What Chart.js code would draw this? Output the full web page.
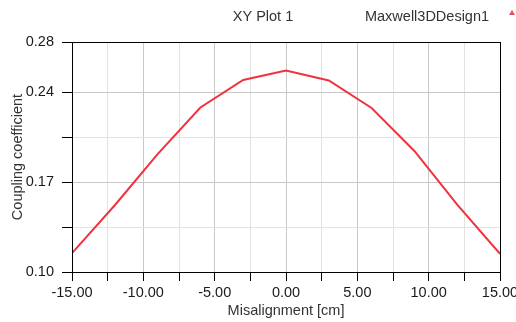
<!DOCTYPE html>
<html>
<head>
<meta charset="utf-8">
<script src="https://cdn.jsdelivr.net/npm/chart.js@4/dist/chart.umd.min.js"></script>
<style>
  html, body { margin: 0; padding: 0; background: #fff; }
  #wrap { width: 516px; height: 322px; }
</style>
</head>
<body>
<div id="wrap"><canvas id="chart"></canvas></div>
<script>
// -----------------------------
// Data
// -----------------------------
const misalignment = [-15, -12, -9, -6, -3, 0, 3, 6, 9, 12, 15];
const coupling = [0.1151, 0.1535, 0.1945, 0.2318, 0.2539, 0.2614, 0.2535, 0.2314, 0.1970, 0.1540, 0.1146];

const yTickValues = [0.10, 0.136, 0.172, 0.208, 0.244, 0.2843];
const yTickLabels = ["0.10", "", "0.17", "", "0.24", "0.28"];
const xTickValues = [-15, -12.5, -10, -7.5, -5, -2.5, 0, 2.5, 5, 7.5, 10, 12.5, 15];
const xTickLabels = ["-15.00", "", "-10.00", "", "-5.00", "", "0.00", "", "5.00", "", "10.00", "", "15.00"];

const plotTitle = "XY Plot 1";
const designName = "Maxwell3DDesign1";

const FONT = "'Liberation Sans', Arial, sans-serif";
const FONT_SIZE = 14.5;

// -----------------------------
// Frame + header texts
// -----------------------------
const framePlugin = {
  id: "frame",
  afterDraw(chart) {
    const { ctx, chartArea: a } = chart;
    ctx.save();
    ctx.strokeStyle = "#000";
    ctx.lineWidth = 1;
    ctx.strokeRect(Math.round(a.left) + 0.5, Math.round(a.top) + 0.5,
                   Math.round(a.right - a.left), Math.round(a.bottom - a.top));

    ctx.fillStyle = "#333";
    ctx.font = FONT_SIZE + "px " + FONT;
    ctx.textBaseline = "middle";
    ctx.textAlign = "center";
    ctx.fillText(plotTitle, 263, 17);
    ctx.fillText(designName, 427, 17);

    // small red marker in the corner
    ctx.fillStyle = "#e05060";
    ctx.beginPath();
    ctx.moveTo(512, 10);
    ctx.lineTo(515, 15);
    ctx.lineTo(509, 15);
    ctx.closePath();
    ctx.fill();
    ctx.restore();
  }
};

// -----------------------------
// Chart
// -----------------------------
new Chart(document.getElementById("chart"), {
  type: "line",
  data: {
    datasets: [{
      label: "Coupling coefficient",
      data: misalignment.map((x, i) => ({ x, y: coupling[i] })),
      borderColor: "#f0323e",
      borderWidth: 2,
      pointRadius: 0,
      tension: 0,
      fill: false
    }]
  },
  options: {
    responsive: true,
    maintainAspectRatio: false,
    animation: false,
    layout: { padding: { top: 42, right: 16, left: 0, bottom: 0 } },
    plugins: {
      legend: { display: false },
      tooltip: { enabled: false }
    },
    scales: {
      x: {
        type: "linear",
        min: -15,
        max: 15,
        afterFit: s => {
          s.height = 50;
          s.paddingLeft = 0;
          s.paddingRight = 0;
        },
        afterBuildTicks: s => { s.ticks = xTickValues.map(v => ({ value: v })); },
        border: { display: false },
        grid: {
          color: c => (xTickLabels[c.index] ? "#c8c8c8" : "#e2e2e2"),
          tickColor: "#000",
          tickLength: 9
        },
        ticks: {
          autoSkip: false,
          maxRotation: 0,
          padding: 3,
          color: "#1a1a1a",
          font: { family: FONT, size: FONT_SIZE },
          callback: (v, i) => xTickLabels[i]
        },
        title: {
          display: true,
          text: "Misalignment [cm]",
          color: "#333",
          font: { family: FONT, size: FONT_SIZE },
          padding: { top: 0, bottom: 2 }
        }
      },
      y: {
        type: "linear",
        min: 0.10,
        max: 0.2843,
        afterFit: s => {
          s.width = 72;
          s.paddingTop = 0;
          s.paddingBottom = 0;
        },
        afterBuildTicks: s => { s.ticks = yTickValues.map(v => ({ value: v })); },
        border: { display: false },
        grid: {
          color: c => (yTickLabels[c.index] ? "#c8c8c8" : "#e2e2e2"),
          tickColor: "#000",
          tickLength: 10
        },
        ticks: {
          autoSkip: false,
          padding: 8,
          color: "#1a1a1a",
          font: { family: FONT, size: FONT_SIZE },
          callback: (v, i) => yTickLabels[i]
        },
        title: {
          display: true,
          text: "Coupling coefficient",
          color: "#333",
          font: { family: FONT, size: FONT_SIZE },
          padding: { top: 9, bottom: 0 }
        }
      }
    }
  },
  plugins: [framePlugin]
});
</script>
</body>
</html>
